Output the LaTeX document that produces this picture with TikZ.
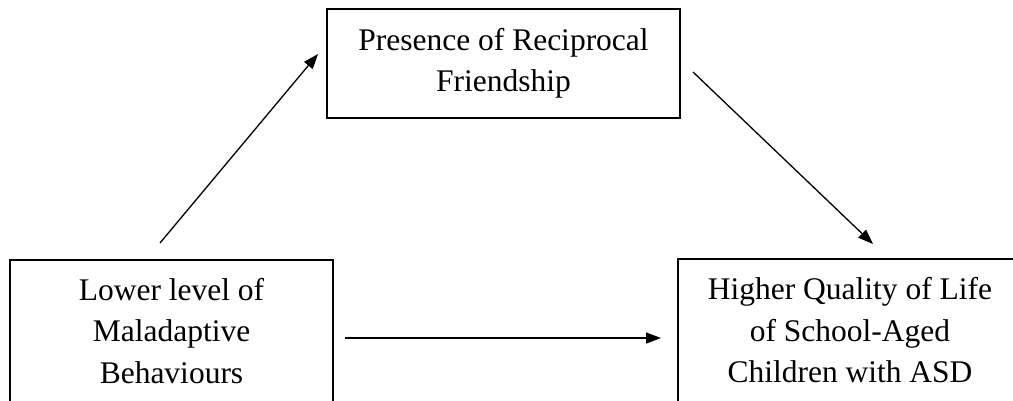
\documentclass[tikz,border=0pt]{standalone}
\usepackage{fontspec}
\setmainfont{Liberation Serif}
\usetikzlibrary{arrows.meta}
\begin{document}
\begin{tikzpicture}[x=1pt,y=-1pt,
  box/.style={draw=black, line width=1.4pt, align=center, inner sep=0pt,
    font=\fontsize{31.5}{41.5}\selectfont, text=black},
  conn/.style={draw=black, line width=1.3pt, -{Triangle[length=15pt,width=11pt]}}]
\useasboundingbox (0,0) rectangle (1013,400);
\node[box, minimum width=353pt, minimum height=109pt] (fr) at (503.5,63.5)
  {Presence of Reciprocal\\Friendship};
\node[box, minimum width=323pt, minimum height=141.5pt] (low) at (171.5,330.75)
  {Lower level of\\Maladaptive\\Behaviours};
\node[box, minimum width=344pt, minimum height=142.5pt] (qol) at (850,330.25)
  {Higher Quality of Life\\of School-Aged\\Children with ASD};
\coordinate (a1s) at (160,243);
\coordinate (a1e) at (318,54);
\coordinate (a2s) at (693,72);
\coordinate (a2e) at (873,244);
\coordinate (a3s) at (345,338);
\coordinate (a3e) at (661,338);
\draw[conn] (a1s) -- (a1e);
\draw[conn] (a2s) -- (a2e);
\draw[conn] (a3s) -- (a3e);
\end{tikzpicture}
\end{document}
